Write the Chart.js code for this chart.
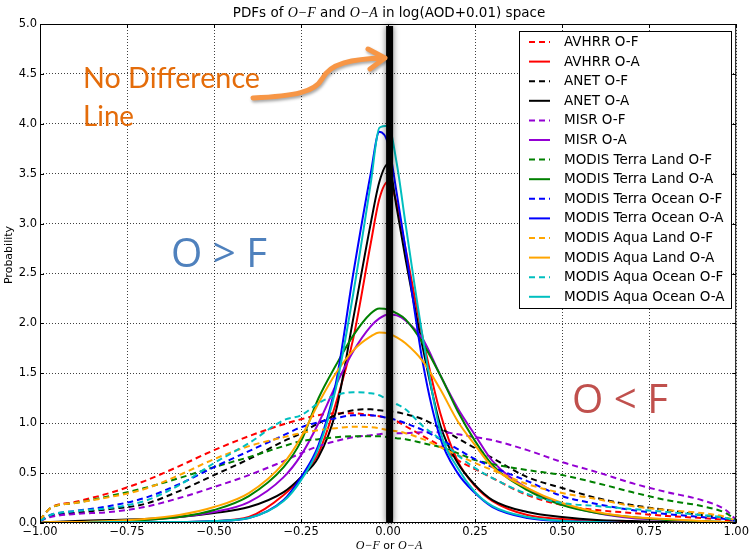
<!DOCTYPE html>
<html>
<head>
<meta charset="utf-8">
<script src="https://cdn.jsdelivr.net/npm/chart.js@4.4.1/dist/chart.umd.min.js"></script>
<style>
  html, body { margin: 0; padding: 0; background: #fff; }
  #pdfChart { display: block; }
</style>
</head>
<body>
<canvas id="pdfChart" width="751" height="552"></canvas>
<script>
// sample positions (O-F or O-A, log space)
const xValues = [-1, -0.97, -0.9, -0.8, -0.7, -0.6, -0.5, -0.4, -0.3, -0.25, -0.2, -0.15, -0.1, -0.05, -0.025,
  0, 0.025, 0.05, 0.1, 0.15, 0.2, 0.25, 0.3, 0.4, 0.5, 0.6, 0.7, 0.8, 0.9, 0.97, 1];

const xTickValues = [-1, -0.75, -0.5, -0.25, 0, 0.25, 0.5, 0.75, 1];
const yTickValues = [0, 0.5, 1, 1.5, 2, 2.5, 3, 3.5, 4, 4.5, 5];

const avhrrOF = [0.03, 0.15, 0.21, 0.30, 0.42, 0.57, 0.73, 0.87, 0.99, 1.04, 1.08, 1.10, 1.10, 1.08, 1.07, 1.05, 1.02, 0.97, 0.87, 0.77, 0.63, 0.54, 0.45, 0.28, 0.18, 0.13, 0.10, 0.07, 0.05, 0.03, 0.02];
const avhrrOA = [0.0, 0.0, 0.0, 0.01, 0.01, 0.01, 0.02, 0.06, 0.28, 0.46, 0.70, 1.20, 1.85, 2.80, 3.25, 3.42, 3.20, 2.75, 1.85, 1.10, 0.62, 0.37, 0.22, 0.08, 0.04, 0.02, 0.01, 0.01, 0.0, 0.0, 0.0];
const anetOF = [0.02, 0.07, 0.10, 0.14, 0.19, 0.32, 0.48, 0.64, 0.82, 0.90, 1.00, 1.08, 1.13, 1.14, 1.13, 1.12, 1.11, 1.09, 1.04, 0.95, 0.85, 0.75, 0.65, 0.46, 0.35, 0.25, 0.18, 0.13, 0.08, 0.05, 0.02];
const anetOA = [0.0, 0.01, 0.02, 0.03, 0.04, 0.06, 0.10, 0.16, 0.31, 0.46, 0.66, 1.12, 2.05, 3.00, 3.42, 3.60, 3.15, 2.65, 1.75, 0.98, 0.60, 0.38, 0.23, 0.11, 0.06, 0.03, 0.02, 0.01, 0.0, 0.0, 0.0];
const misrOF = [0.02, 0.06, 0.09, 0.11, 0.16, 0.25, 0.36, 0.48, 0.62, 0.70, 0.77, 0.82, 0.86, 0.88, 0.89, 0.90, 0.90, 0.90, 0.91, 0.91, 0.89, 0.86, 0.83, 0.73, 0.61, 0.51, 0.40, 0.31, 0.23, 0.13, 0.03];
const misrOA = [0.0, 0.01, 0.01, 0.02, 0.03, 0.06, 0.11, 0.21, 0.46, 0.68, 1.00, 1.38, 1.72, 1.97, 2.05, 2.09, 2.08, 2.03, 1.84, 1.48, 1.15, 0.88, 0.62, 0.35, 0.19, 0.10, 0.05, 0.03, 0.01, 0.01, 0.0];
const terraLandOF = [0.03, 0.15, 0.20, 0.27, 0.35, 0.45, 0.56, 0.66, 0.77, 0.82, 0.84, 0.86, 0.87, 0.87, 0.87, 0.86, 0.85, 0.84, 0.80, 0.76, 0.70, 0.63, 0.59, 0.53, 0.48, 0.40, 0.31, 0.23, 0.17, 0.10, 0.03];
const terraLandOA = [0.0, 0.01, 0.01, 0.02, 0.03, 0.06, 0.13, 0.27, 0.56, 0.82, 1.25, 1.58, 1.88, 2.10, 2.15, 2.14, 2.10, 2.04, 1.80, 1.48, 1.12, 0.82, 0.58, 0.33, 0.18, 0.10, 0.06, 0.03, 0.02, 0.01, 0.0];
const terraOceanOF = [0.02, 0.08, 0.12, 0.17, 0.25, 0.39, 0.56, 0.72, 0.88, 0.96, 1.01, 1.05, 1.08, 1.08, 1.07, 1.05, 1.03, 1.00, 0.93, 0.84, 0.74, 0.64, 0.56, 0.42, 0.27, 0.19, 0.13, 0.09, 0.06, 0.04, 0.02];
const terraOceanOA = [0.0, 0.0, 0.0, 0.0, 0.01, 0.01, 0.02, 0.05, 0.23, 0.46, 0.78, 1.40, 2.50, 3.50, 3.92, 3.80, 3.30, 2.75, 1.60, 0.85, 0.50, 0.30, 0.16, 0.05, 0.02, 0.01, 0.0, 0.0, 0.0, 0.0, 0.0];
const aquaLandOF = [0.03, 0.15, 0.20, 0.26, 0.34, 0.48, 0.64, 0.77, 0.86, 0.90, 0.93, 0.95, 0.965, 0.96, 0.95, 0.93, 0.92, 0.90, 0.84, 0.76, 0.68, 0.60, 0.53, 0.39, 0.30, 0.24, 0.17, 0.13, 0.10, 0.06, 0.02];
const aquaLandOA = [0.0, 0.01, 0.01, 0.02, 0.04, 0.08, 0.16, 0.30, 0.60, 0.86, 1.20, 1.50, 1.73, 1.87, 1.91, 1.90, 1.86, 1.80, 1.62, 1.34, 1.02, 0.78, 0.56, 0.35, 0.20, 0.11, 0.06, 0.04, 0.02, 0.01, 0.0];
const aquaOceanOF = [0.02, 0.08, 0.12, 0.15, 0.22, 0.38, 0.60, 0.80, 1.03, 1.08, 1.20, 1.28, 1.31, 1.30, 1.28, 1.23, 1.19, 1.14, 0.97, 0.84, 0.68, 0.55, 0.45, 0.29, 0.20, 0.17, 0.14, 0.11, 0.08, 0.05, 0.02];
const aquaOceanOA = [0.0, 0.0, 0.0, 0.01, 0.01, 0.01, 0.02, 0.05, 0.22, 0.43, 0.75, 1.35, 2.30, 3.40, 3.96, 3.98, 3.60, 3.00, 1.85, 0.92, 0.55, 0.31, 0.17, 0.06, 0.02, 0.01, 0.0, 0.0, 0.0, 0.0, 0.0];

const seriesNames = [
  "AVHRR O-F", "AVHRR O-A", "ANET O-F", "ANET O-A", "MISR O-F", "MISR O-A",
  "MODIS Terra Land O-F", "MODIS Terra Land O-A", "MODIS Terra Ocean O-F", "MODIS Terra Ocean O-A",
  "MODIS Aqua Land O-F", "MODIS Aqua Land O-A", "MODIS Aqua Ocean O-F", "MODIS Aqua Ocean O-A"
];
const seriesValues = [avhrrOF, avhrrOA, anetOF, anetOA, misrOF, misrOA, terraLandOF, terraLandOA,
  terraOceanOF, terraOceanOA, aquaLandOF, aquaLandOA, aquaOceanOF, aquaOceanOA];

const seriesColors = ["#FF0000", "#FF0000", "#000000", "#000000", "#9400D3", "#9400D3", "#008000", "#008000",
  "#0000FF", "#0000FF", "#FFA500", "#FFA500", "#00BFBF", "#00BFBF"];

const DASH = [6, 4];
const SANS = "'DejaVu Sans'";
const MATH = "italic 14px 'Liberation Serif'";

Chart.defaults.font.family = SANS;
Chart.defaults.color = "#000";

function fmtTick(v, digits) {
  return v.toFixed(digits).replace("-", "\u2212");
}

function drawRich(ctx, parts, cx, baseline) {
  let total = 0;
  parts.forEach((p) => { ctx.font = p.font; p.w = ctx.measureText(p.text).width; total += p.w; });
  let x = cx - total / 2;
  ctx.textAlign = "left";
  ctx.textBaseline = "alphabetic";
  parts.forEach((p) => { ctx.font = p.font; ctx.fillText(p.text, x, baseline); x += p.w; });
}

function fitText(ctx, text, x, y, width, font, color) {
  ctx.save();
  ctx.font = font;
  ctx.fillStyle = color;
  ctx.textAlign = "left";
  ctx.textBaseline = "alphabetic";
  const w = ctx.measureText(text).width;
  ctx.translate(x, y);
  ctx.scale(width / w, 1);
  ctx.fillText(text, 0, 0);
  ctx.restore();
}

const overlay = {
  id: "overlay",
  afterDatasetsDraw(chart) {
    const { ctx, chartArea: a, scales: { x, y } } = chart;

    // axes frame with inward ticks, matplotlib style
    ctx.save();
    ctx.strokeStyle = "#000";
    ctx.lineWidth = 1;
    ctx.strokeRect(a.left + 0.5, a.top + 0.5, a.right - a.left - 1, a.bottom - a.top - 1);
    ctx.beginPath();
    xTickValues.forEach((v) => {
      const px = Math.round(x.getPixelForValue(v)) + 0.5;
      ctx.moveTo(px, a.bottom); ctx.lineTo(px, a.bottom - 4);
      ctx.moveTo(px, a.top); ctx.lineTo(px, a.top + 4);
    });
    yTickValues.forEach((v) => {
      const py = Math.round(y.getPixelForValue(v)) + 0.5;
      ctx.moveTo(a.left, py); ctx.lineTo(a.left + 4, py);
      ctx.moveTo(a.right, py); ctx.lineTo(a.right - 4, py);
    });
    ctx.stroke();
    ctx.restore();

    // "no difference" line at zero
    const x0 = x.getPixelForValue(0) + 1.5;
    ctx.save();
    ctx.shadowColor = "rgba(0,0,0,0.55)";
    ctx.shadowBlur = 6;
    ctx.fillStyle = "#000";
    ctx.fillRect(x0 - 3.5, a.top + 2, 7, a.bottom - a.top - 2);
    ctx.restore();
  },
  afterDraw(chart) {
    const { ctx } = chart;

    // title and axis labels
    ctx.save();
    ctx.fillStyle = "#000";
    const sans = "13.5px " + SANS;
    drawRich(ctx, [
      { text: "PDFs of ", font: sans },
      { text: "O\u2212F", font: MATH },
      { text: " and ", font: sans },
      { text: "O\u2212A", font: MATH },
      { text: " in log(AOD+0.01) space", font: sans }
    ], 389, 17);
    drawRich(ctx, [
      { text: "O\u2212F", font: "italic 12px 'Liberation Serif'" },
      { text: " or ", font: "11px " + SANS },
      { text: "O\u2212A", font: "italic 12px 'Liberation Serif'" }
    ], 389, 549);
    ctx.translate(9, 255);
    ctx.rotate(-Math.PI / 2);
    ctx.font = "11px " + SANS;
    ctx.textAlign = "center";
    ctx.textBaseline = "middle";
    ctx.fillText("Probability", 0, 0);
    ctx.restore();

    // legend
    const left = 519.5, top = 31.5, rowH = 19.6;
    ctx.save();
    ctx.fillStyle = "#fff";
    ctx.strokeStyle = "#000";
    ctx.lineWidth = 1;
    ctx.fillRect(left, top, 212, 277);
    ctx.strokeRect(left, top, 212, 277);
    chart.data.datasets.forEach((ds, i) => {
      const cy = top + 10.5 + i * rowH;
      ctx.beginPath();
      ctx.setLineDash(ds.borderDash);
      ctx.strokeStyle = ds.borderColor;
      ctx.lineWidth = 2;
      ctx.moveTo(529, cy);
      ctx.lineTo(550, cy);
      ctx.stroke();
      ctx.setLineDash([]);
      ctx.fillStyle = "#000";
      ctx.font = "13.5px " + SANS;
      ctx.textAlign = "left";
      ctx.textBaseline = "middle";
      ctx.fillText(ds.label, 564, cy + 0.5);
    });
    ctx.restore();

    // callouts
    fitText(ctx, "No Difference", 83, 88, 177, "28px Lato", "#E46C0A");
    fitText(ctx, "Line", 83, 126, 51, "28px Lato", "#E46C0A");
    fitText(ctx, "O > F", 171, 267, 96, "41px 'Open Sans'", "#4F81BD");
    fitText(ctx, "O < F", 572, 413, 96, "41px 'Open Sans'", "#C0504D");

    // arrow to the line
    ctx.save();
    ctx.strokeStyle = "#F79646";
    ctx.lineWidth = 5;
    ctx.lineCap = "round";
    ctx.lineJoin = "round";
    ctx.shadowColor = "rgba(0,0,0,0.35)";
    ctx.shadowBlur = 3;
    ctx.shadowOffsetX = 1;
    ctx.shadowOffsetY = 2;
    ctx.beginPath();
    ctx.moveTo(253, 98);
    ctx.bezierCurveTo(295, 96, 315, 92, 322, 79);
    ctx.bezierCurveTo(330, 63, 352, 59, 384, 58);
    ctx.moveTo(368, 49);
    ctx.lineTo(385, 58);
    ctx.lineTo(370, 69);
    ctx.stroke();
    ctx.restore();
  }
};

const datasets = seriesNames.map((name, i) => ({
  label: name,
  data: xValues.map((x, j) => ({ x, y: seriesValues[i][j] })),
  borderColor: seriesColors[i],
  borderWidth: 2,
  borderDash: name.endsWith("O-F") ? DASH : [],
  pointRadius: 0,
  fill: false,
  cubicInterpolationMode: "monotone",
  order: seriesNames.length - i
}));

const tickFont = { family: SANS, size: 11.5 };

new Chart(document.getElementById("pdfChart"), {
  type: "line",
  data: { datasets },
  plugins: [overlay],
  options: {
    responsive: false,
    animation: false,
    devicePixelRatio: 1,
    layout: { padding: { top: 24, right: 13, left: 0, bottom: 0 } },
    plugins: { legend: { display: false }, tooltip: { enabled: false }, title: { display: false } },
    scales: {
      x: {
        type: "linear",
        min: -1,
        max: 1,
        afterBuildTicks: (s) => { s.ticks = xTickValues.map((v) => ({ value: v })); },
        afterFit: (s) => { s.height = 29; },
        grid: { color: "rgba(0,0,0,0.75)", lineWidth: 1, drawTicks: false },
        border: { display: false, dash: [1, 2] },
        ticks: { font: tickFont, padding: 2, maxRotation: 0, autoSkip: false, callback: (v) => fmtTick(v, 2) }
      },
      y: {
        min: 0,
        max: 5,
        afterBuildTicks: (s) => { s.ticks = yTickValues.map((v) => ({ value: v })); },
        afterFit: (s) => { s.width = 40; },
        grid: { color: "rgba(0,0,0,0.75)", lineWidth: 1, drawTicks: false },
        border: { display: false, dash: [1, 2] },
        ticks: { font: tickFont, padding: 3, autoSkip: false, callback: (v) => fmtTick(v, 1) }
      }
    }
  }
});
</script>
</body>
</html>
